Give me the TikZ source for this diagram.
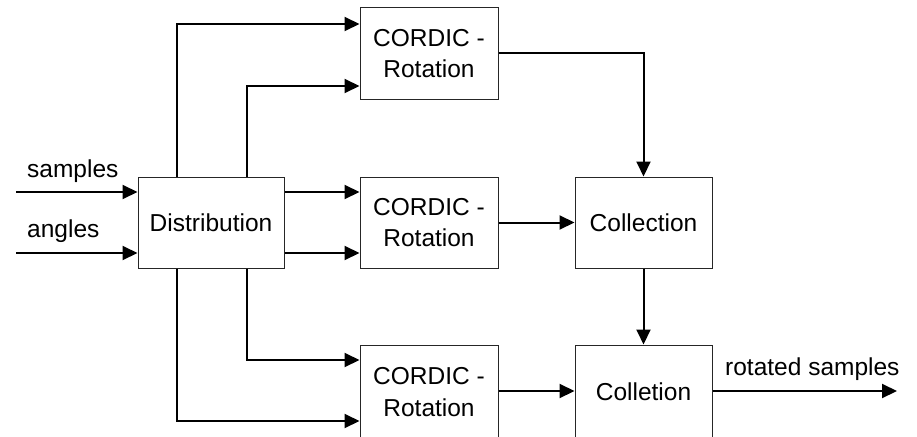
\documentclass[tikz,border=0pt]{standalone}
\usepackage{fontspec}
\setmainfont{Liberation Sans}
\usetikzlibrary{arrows.meta,calc}
\tikzset{
  blk/.style={draw=black!85, line width=1pt, rectangle, inner sep=0pt,
    minimum width=#1, minimum height=91pt, align=center,
    font=\fontsize{24.5}{31.5}\selectfont},
  blk/.default=138pt,
  lowblk/.style={minimum height=94pt},
  arr/.style={line width=2pt, -{Triangle[length=15pt,width=14pt]}},
  lbl/.style={font=\fontsize{24.5}{30}\selectfont, inner sep=0pt, anchor=base west}
}
\begin{document}
\begin{tikzpicture}[x=1pt,y=-1pt]
\useasboundingbox (0,0) rectangle (917,436);
% blocks
\node[blk=146pt] (dist) at (211,222.5) {Distribution};
\node[blk] (cr1) at (429,53.5) {CORDIC -\\Rotation};
\node[blk] (cr2) at (429,222.5) {CORDIC -\\Rotation};
\node[blk,lowblk] (cr3) at (429,392) {CORDIC -\\Rotation};
\node[blk=137pt,lowblk] (col2) at (643.5,392) {Colletion};
\node[blk=137pt] (col1) at (643.5,222.5) {Collection};
% labels
\node[lbl] (ls) at (27,177) {samples};
\node[lbl] (la) at (27,237) {angles};
\node[lbl] (lr) at (725,375) {rotated samples};
% helper coordinates
\coordinate (ins) at (16,192);
\coordinate (ina) at (16,253);
\coordinate (xa) at (177,0);
\coordinate (xb) at (247,0);
\coordinate (yo) at (0,391);
\coordinate (out) at (897,391);
% inputs
\draw[arr] (ins) -- (dist.west |- ins);
\draw[arr] (ina) -- (dist.west |- ina);
% distribution to cordic
\draw[arr] (dist.north -| xa) |- (cr1.west |- 0,24);
\draw[arr] (dist.north -| xb) |- (cr1.west |- 0,86);
\draw[arr] (dist.east |- 0,192) -- (cr2.west |- 0,192);
\draw[arr] (dist.east |- 0,253) -- (cr2.west |- 0,253);
\draw[arr] (dist.south -| xb) |- (cr3.west |- 0,360);
\draw[arr] (dist.south -| xa) |- (cr3.west |- 0,421);
% cordic to collection
\draw[arr] (cr1.east) -| (col1.north);
\draw[arr] (cr2.east) -- (col1.west);
\draw[arr] (col1.south) -- (col2.north);
\draw[arr] (cr3.east |- yo) -- (col2.west |- yo);
\draw[arr] (col2.east |- yo) -- (out);
\end{tikzpicture}
\end{document}
